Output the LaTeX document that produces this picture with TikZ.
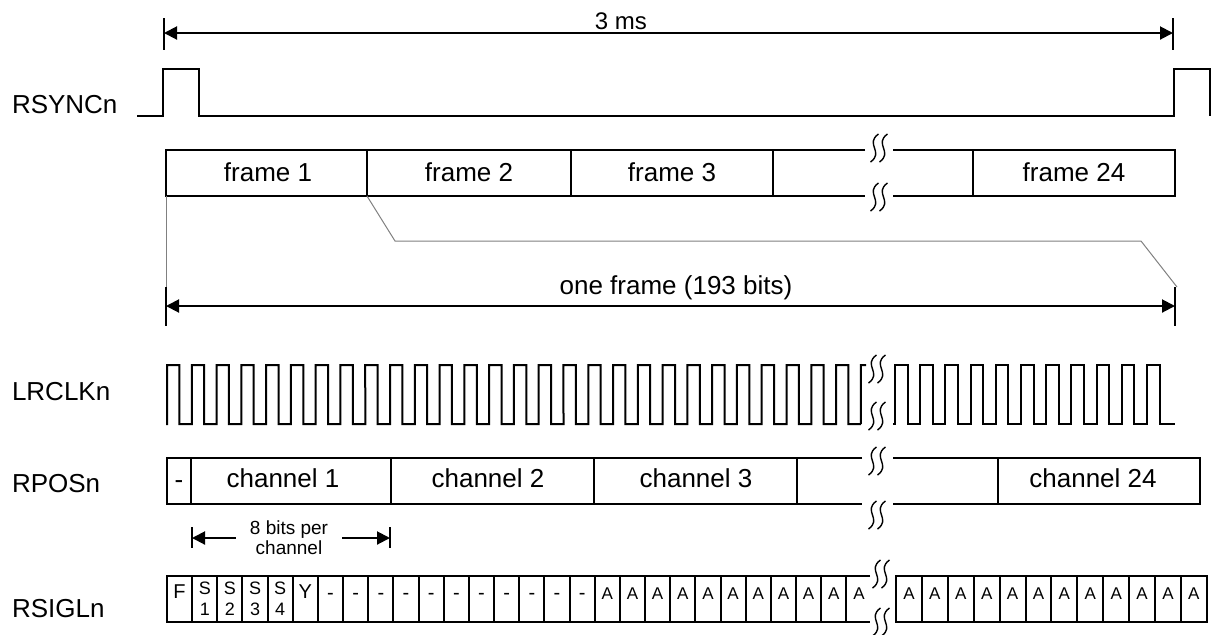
\documentclass[tikz,border=0pt]{standalone}
\usepackage{fontspec}
\setmainfont{Liberation Sans}
\usetikzlibrary{arrows.meta}

% double wavy break mark
\newcommand\wavebreak[2]{%
  \foreach \d in {-4.5,4.5}
    \draw[line width=0.7pt] ({#1+\d+4},{#2-14}) .. controls ({#1+\d-10},{#2-4}) and ({#1+\d+10},{#2+4}) .. ({#1+\d-4},{#2+14});}

\tikzset{
  lbl/.style={anchor=base west, inner sep=0pt, font=\fontsize{13}{15}\selectfont},
  txt/.style={inner sep=0pt, font=\fontsize{13}{15}\selectfont, text height=0.75em, text depth=0.25em},
  bit/.style={inner sep=0pt, font=\fontsize{10}{11}\selectfont, text height=0.75em, text depth=0.25em},
  abit/.style={inner sep=0pt, font=\fontsize{8.5}{9}\selectfont, text height=0.75em, text depth=0.25em},
  sbit/.style={inner sep=0pt, anchor=base, font=\fontsize{9}{10}\selectfont},
  dimarr/.style={{Triangle[length=6.5pt,width=6.5pt]}-{Triangle[length=6.5pt,width=6.5pt]}},
  onearr/.style={-{Triangle[length=6.5pt,width=6.5pt]}},
  guide/.style={gray, line width=0.5pt}
}

\begin{document}
\begin{tikzpicture}[x=0.5pt, y=-0.5pt, line width=1pt]
\useasboundingbox (0,0) rectangle (1228,634);

% signal names
\node[lbl] (rsync) at (11,113) {RSYNCn};
\node[lbl] (lrclk) at (11,400) {LRCLKn};
\node[lbl] (rpos) at (11,492) {RPOSn};
\node[lbl] (rsigl) at (11,617) {RSIGLn};

% 3 ms
\coordinate (ms-l) at (164,33);
\coordinate (ms-r) at (1173,33);
\draw (ms-l) ++(0,-15) -- ++(0,32);
\draw (ms-r) ++(0,-15) -- ++(0,32);
\draw[dimarr] (ms-l) -- (ms-r);
\node[txt, anchor=base, font=\fontsize{12}{14}\selectfont] (ms) at (621,29) {3 ms};

% RSYNCn
\draw (137,116) -- (163,116) -- (163,69) -- (199,69) -- (199,116) -- (1174,116)
      -- (1174,69) -- (1210,69) -- (1210,116);

% frames
\draw (865,150) -- (166,150) -- (166,196) -- (865,196);
\draw (893,150) -- (1175,150) -- (1175,196) -- (893,196);
\foreach \x in {367,571,773,973}
  \draw (\x,150) -- (\x,196);
\wavebreak{879}{148}
\wavebreak{879}{197}
\foreach \n/\x/\t in {f1/268/frame 1, f2/469/frame 2, f3/672/frame 3, f24/1074/frame 24}
  \node[txt] (\n) at (\x,176) {\t};

% one frame
\coordinate (of-l) at (166,306);
\coordinate (of-r) at (1175,306);
\draw[guide] (166,196) -- (166,287);
\draw[guide] (367,196) -- (395,241) -- (1141,241) -- (1177,287);
\draw (of-l) ++(0,-19) -- ++(0,39);
\draw (of-r) ++(0,-19) -- ++(0,39);
\draw[dimarr] (of-l) -- (of-r);
\node[txt, anchor=base] (of) at (676,294) {one frame (193 bits)};

% LRCLKn
\draw (167,425) \foreach \k in {0,...,27} {
      -- ({167+24.78*\k},365) -- ({179.4+24.78*\k},365)
      -- ({179.4+24.78*\k},424) -- ({191.8+24.78*\k},424) }
      -- (860.8,424) -- (860.8,365) -- (866,365);
\draw (893,424) \foreach \k in {0,...,10} {
      -- ({895+25.2*\k},424) -- ({895+25.2*\k},365)
      -- ({907.6+25.2*\k},365) -- ({907.6+25.2*\k},424) }
      -- (1175,424);
\wavebreak{877}{369}
\wavebreak{877}{416}

% RPOSn
\draw (862,458) -- (167,458) -- (167,504) -- (862,504);
\draw (893,458) -- (1200,458) -- (1200,504) -- (893,504);
\foreach \x in {191,391,594,797,998}
  \draw (\x,458) -- (\x,504);
\wavebreak{877}{461}
\wavebreak{877}{515}
\node[txt] (pd) at (179,483) {-};
\foreach \n/\x/\t in {ch1/283/channel 1, ch2/488/channel 2, ch3/696/channel 3, ch24/1093/channel 24}
  \node[txt] (\n) at (\x,482) {\t};

% 8 bits per channel
\coordinate (eb-l) at (192,538);
\coordinate (eb-r) at (390,538);
\node[align=center, inner xsep=6.5pt, inner ysep=0pt, font=\fontsize{9.5}{8}\selectfont] (eb) at (289,538) {8 bits per\\channel};
\draw (eb-l) ++(0,-11) -- ++(0,21);
\draw (eb-r) ++(0,-11) -- ++(0,21);
\draw[onearr] (eb.west |- eb-l) -- (eb-l);
\draw[onearr] (eb.east |- eb-r) -- (eb-r);

% RSIGLn
\draw (870,576) -- (167,576) -- (167,622) -- (870,622);
\foreach \k in {1,...,27}
  \draw ({167+25.16*\k},576) -- ++(0,46);
\draw (896,576) -- (1207,576) -- (1207,622) -- (896,622) -- cycle;
\foreach \k in {1,...,11}
  \draw ({896+25.9*\k},576) -- ++(0,46);
\wavebreak{881}{574}
\wavebreak{881}{622}
\foreach \k/\t in {0/F,5/Y}
  \node[bit] (b\k) at ({179.6+25.16*\k},593) {\t};
\foreach \k in {1,...,4} {
  \node[sbit] (s\k) at ({179.6+25.16*\k},594) {S};
  \node[sbit] (n\k) at ({179.6+25.16*\k},615) {\k};
}
\foreach \k in {6,...,16}
  \node[bit] (b\k) at ({179.6+25.16*\k},594) {-};
\foreach \k in {17,...,27}
  \node[abit] (b\k) at ({179.6+25.16*\k},594) {A};
\foreach \k in {0,...,11}
  \node[abit] (a\k) at ({909+25.9*\k},594) {A};
\end{tikzpicture}
\end{document}
